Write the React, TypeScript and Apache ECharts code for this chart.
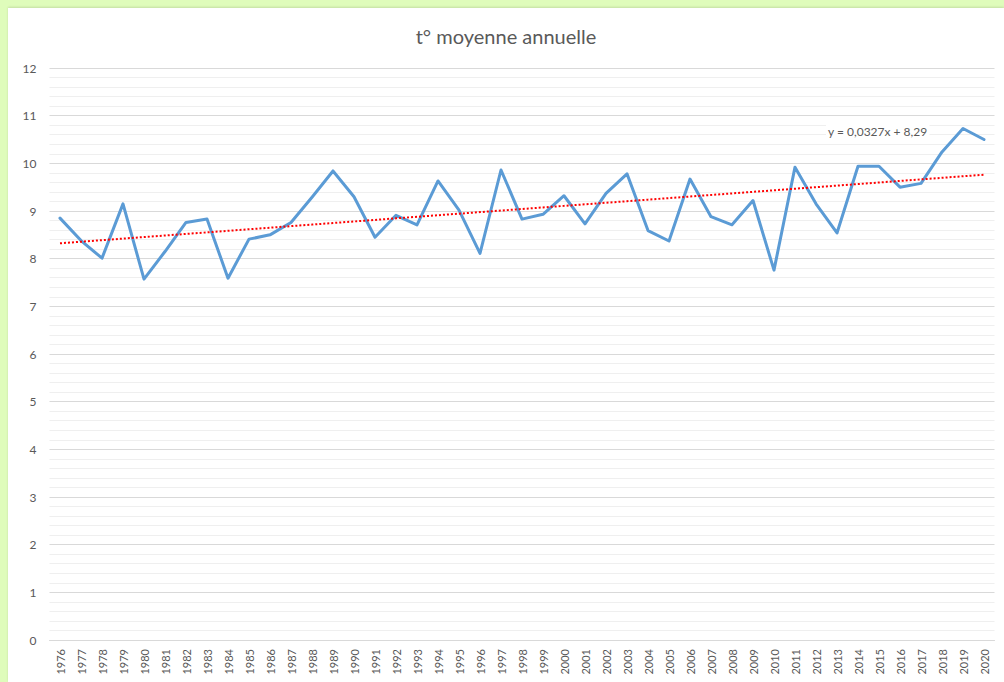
import React, { useEffect, useRef } from "react";
import * as echarts from "echarts";

const years: string[] = [
  "1976","1977","1978","1979","1980","1981","1982","1983","1984","1985",
  "1986","1987","1988","1989","1990","1991","1992","1993","1994","1995",
  "1996","1997","1998","1999","2000","2001","2002","2003","2004","2005",
  "2006","2007","2008","2009","2010","2011","2012","2013","2014","2015",
  "2016","2017","2018","2019","2020",
];

const meanTemp: number[] = [
  8.85, 8.38, 8.01, 9.15, 7.57, 8.15, 8.76, 8.83, 7.59, 8.41,
  8.5, 8.76, 9.29, 9.84, 9.3, 8.45, 8.91, 8.71, 9.63, 9.02,
  8.11, 9.86, 8.83, 8.93, 9.32, 8.73, 9.37, 9.78, 8.59, 8.37,
  9.67, 8.88, 8.71, 9.22, 7.76, 9.92, 9.15, 8.54, 9.94, 9.94,
  9.5, 9.58, 10.24, 10.73, 10.5,
];

// Linear trend shown on the chart: y = 0,0327x + 8,29 (x = 1..45)
const trendSlope = 0.0327;
const trendIntercept = 8.29;
const trendLabel = "y = 0,0327x + 8,29";
const chartTitle = "t° moyenne annuelle";

const FONT = "Lato, 'Open Sans', sans-serif";
const TEXT = "#595959";

export default function App() {
  const ref = useRef<HTMLDivElement>(null);

  useEffect(() => {
    if (!ref.current) return;
    const chart = echarts.init(ref.current, undefined, { renderer: "svg" });
    const trend = years.map((_, i) => +(trendSlope * (i + 1) + trendIntercept).toFixed(4));
    chart.setOption({
      animation: false,
      backgroundColor: "#ffffff",
      title: {
        text: chartTitle,
        left: "center",
        top: 13,
        textStyle: { fontFamily: FONT, fontSize: 20, fontWeight: "normal", color: TEXT },
      },
      grid: { left: 41.5, right: 9.5, top: 60, bottom: 42, containLabel: false },
      xAxis: {
        type: "category",
        data: years,
        boundaryGap: true,
        axisLine: { show: true, lineStyle: { color: "#d9d9d9", width: 1 } },
        axisTick: { show: false },
        axisLabel: {
          rotate: 90,
          interval: 0,
          margin: 9,
          fontFamily: FONT,
          fontSize: 11,
          color: TEXT,
        },
        splitLine: { show: false },
      },
      yAxis: {
        type: "value",
        min: 0,
        max: 12,
        interval: 1,
        axisLine: { show: false },
        axisTick: { show: false },
        axisLabel: { margin: 13, fontFamily: FONT, fontSize: 12, color: TEXT },
        splitLine: { show: true, lineStyle: { color: "#d9d9d9", width: 1 } },
        minorTick: { show: false, splitNumber: 5 },
        minorSplitLine: { show: true, lineStyle: { color: "#efefef", width: 1 } },
      },
      series: [
        {
          name: "t° moyenne",
          type: "line",
          data: meanTemp,
          showSymbol: false,
          symbol: "none",
          lineStyle: { color: "#5b9bd5", width: 3, cap: "round", join: "round" },
          z: 3,
        },
        {
          name: "Linéaire",
          type: "line",
          data: trend,
          showSymbol: false,
          symbol: "none",
          lineStyle: { color: "#ff0000", width: 2, type: [2, 2] },
          z: 4,
        },
      ],
      graphic: [
        {
          type: "text",
          left: 818,
          top: 115,
          z: 10,
          style: {
            text: trendLabel,
            fontFamily: FONT,
            fontSize: 12,
            fill: TEXT,
            backgroundColor: "#ffffff",
            padding: [2, 2, 1, 2],
          },
        },
      ],
    });
    return () => chart.dispose();
  }, []);

  return (
    <div
      style={{
        position: "absolute",
        left: 0,
        top: 0,
        width: 1004,
        height: 682,
        background: "#dffcbb",
        overflow: "hidden",
      }}
    >
      <div
        style={{
          position: "absolute",
          left: 8,
          top: 8,
          width: 996,
          height: 674,
          background: "#ffffff",
          boxShadow: "0 -1px 2px rgba(0,0,0,0.12)",
        }}
      >
        <div ref={ref} style={{ width: 996, height: 674 }} />
      </div>
    </div>
  );
}
